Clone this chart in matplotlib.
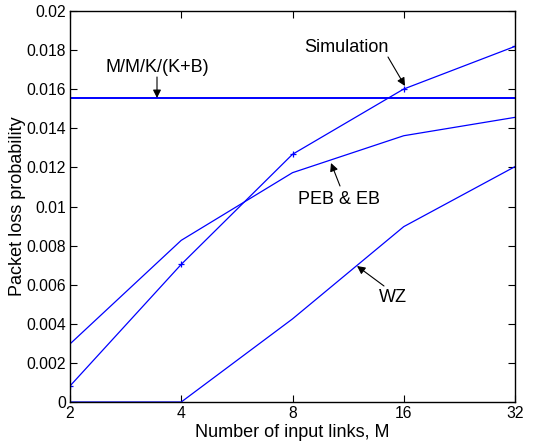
import matplotlib
matplotlib.use('Agg')
import matplotlib.pyplot as plt

plt.rcParams['font.family'] = ['Liberation Sans', 'DejaVu Sans']

# data
links = [2, 4, 8, 16, 32]
sim = [0.00082, 0.00704, 0.01267, 0.01601, 0.01819]
peb_eb = [0.00297, 0.00827, 0.01173, 0.01362, 0.01456]
wz = [0.0, 0.0, 0.00425, 0.00897, 0.01204]
mmk = 0.01555

fig = plt.figure(figsize=(5.49, 4.43), dpi=100)
ax = fig.add_axes([70/549, 1 - 402/443, 445/549, 391/443])

ax.plot(links, sim, color='blue', lw=0.9, marker='+', ms=5, mew=0.9)
ax.plot(links, peb_eb, color='blue', lw=0.9)
ax.plot(links, wz, color='blue', lw=0.9)
ax.axhline(mmk, color='blue', lw=1.4)

ax.set_xscale('log', base=2)
ax.set_xlim(2, 32)
ax.set_ylim(0, 0.02)
ax.set_xticks(links)
ax.set_xticklabels([str(v) for v in links])
ax.set_yticks([0, 0.002, 0.004, 0.006, 0.008, 0.01, 0.012, 0.014, 0.016, 0.018, 0.02])
ax.set_yticklabels(['0', '0.002', '0.004', '0.006', '0.008', '0.01', '0.012',
                    '0.014', '0.016', '0.018', '0.02'])
ax.minorticks_off()
ax.tick_params(direction='in', top=True, right=True, labelsize=11.3, length=5, pad=3)
for s in ax.spines.values():
    s.set_linewidth(1.0)

ax.set_xlabel('Number of input links, M', fontsize=13, labelpad=2)
ax.set_ylabel('Packet loss probability', fontsize=13, labelpad=0)

arrow = dict(arrowstyle='-|>', color='black', lw=0.8, mutation_scale=12, shrinkA=0, shrinkB=0)

def px(x, y):
    return (x / 549, 1 - y / 443)

labels = [('M/M/K/(K+B)', (157, 68), (157, 77), (157, 98)),
          ('Simulation', (346, 47), (388, 57), (405, 86)),
          ('PEB & EB', (339, 199), (340, 186), (331, 163)),
          ('WZ', (393, 297), (384, 286), (357, 266))]
for txt, tpos, tail, tip in labels:
    fig.text(*px(*tpos), txt, ha='center', va='center', fontsize=13)
    ax.annotate('', xy=px(*tip), xycoords='figure fraction',
                xytext=px(*tail), textcoords='figure fraction', arrowprops=arrow)

fig.savefig('out.png', dpi=100)
